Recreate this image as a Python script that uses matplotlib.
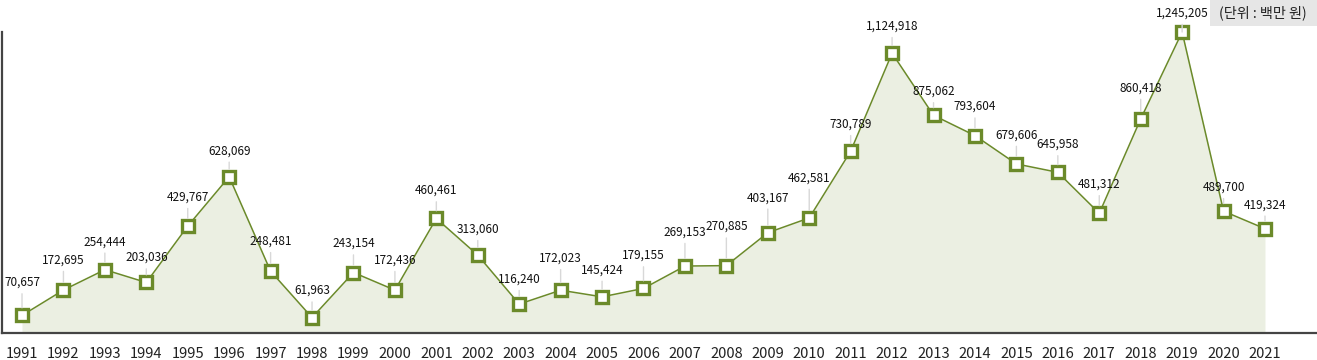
import numpy as np
import matplotlib
matplotlib.use("Agg")
from matplotlib import pyplot as plt
from matplotlib.patches import Rectangle

plt.rcParams['font.family'] = ['Noto Sans CJK KR', 'DejaVu Sans']

years = list(range(1991, 2022))
values = [70657, 172695, 254444, 203036, 429767, 628069, 248481, 61963,
          243154, 172436, 460461, 313060, 116240, 172023, 145424, 179155,
          269153, 270885, 403167, 462581, 730789, 1124918, 875062, 793604,
          679606, 645958, 481312, 860418, 1245205, 489700, 419324]
unit_label = "(단위 : 백만 원)"

# label offsets above each marker, in pixels (the original layout avoids overlaps)
label_offsets_px = [33, 30, 28, 25, 29, 26, 30, 27, 29, 30, 28, 26, 25, 32, 27, 33,
                    34, 39, 35, 40, 27, 27, 24, 29, 29, 28, 29, 31, 19, 24, 24]

LINE = '#6b8a2a'
FILL = '#ebefe2'
Y_MAX = 1210000

fig = plt.figure(figsize=(13.17, 3.6), dpi=100)
ax = fig.add_axes([2 / 1317, 27 / 360, 1315 / 1317, 301 / 360])

x = np.array(years)
y = np.minimum(np.array(values), Y_MAX)

ax.fill_between(x, 0, y, color=FILL, lw=0, zorder=1)
ax.plot(x, y, color=LINE, lw=1.1, zorder=2)
ax.plot(x, y, ls='none', marker='s', ms=8.6, mfc='white', mec=LINE, mew=2.4,
        zorder=4, clip_on=False)

for xi, yi, v, off in zip(x, y, values, label_offsets_px):
    ax.annotate(f"{v:,}", xy=(xi, yi), xytext=(0, off * 0.72),
                textcoords='offset points', ha='center', va='center',
                fontsize=8.5, color='#111111', zorder=5, annotation_clip=False,
                arrowprops=dict(arrowstyle='-', color='#d8d8d8', lw=1.0,
                                shrinkA=1.5, shrinkB=5.5))

ax.set_xlim(1991 - 20 / 41.43, 2021 + 52 / 41.43)
ax.set_ylim(0, Y_MAX)
ax.set_xticks(years)
ax.set_xticklabels([str(v) for v in years], fontsize=10.6, color='#222222')
ax.tick_params(axis='x', length=0, pad=10)
ax.set_yticks([])

for s in ['top', 'right']:
    ax.spines[s].set_visible(False)
for s in ['left', 'bottom']:
    ax.spines[s].set_color('#444444')
    ax.spines[s].set_linewidth(1.6)

# unit box in the top right corner
fig.patches.append(Rectangle((1210 / 1317, 1 - 26 / 360), 107 / 1317, 26 / 360,
                             transform=fig.transFigure, fc='#e6e6e6', ec='none'))
fig.text(1263 / 1317, 1 - 13 / 360, unit_label, ha='center', va='center',
         fontsize=10.2, color='#222222')

fig.savefig("out.png", dpi=100)
